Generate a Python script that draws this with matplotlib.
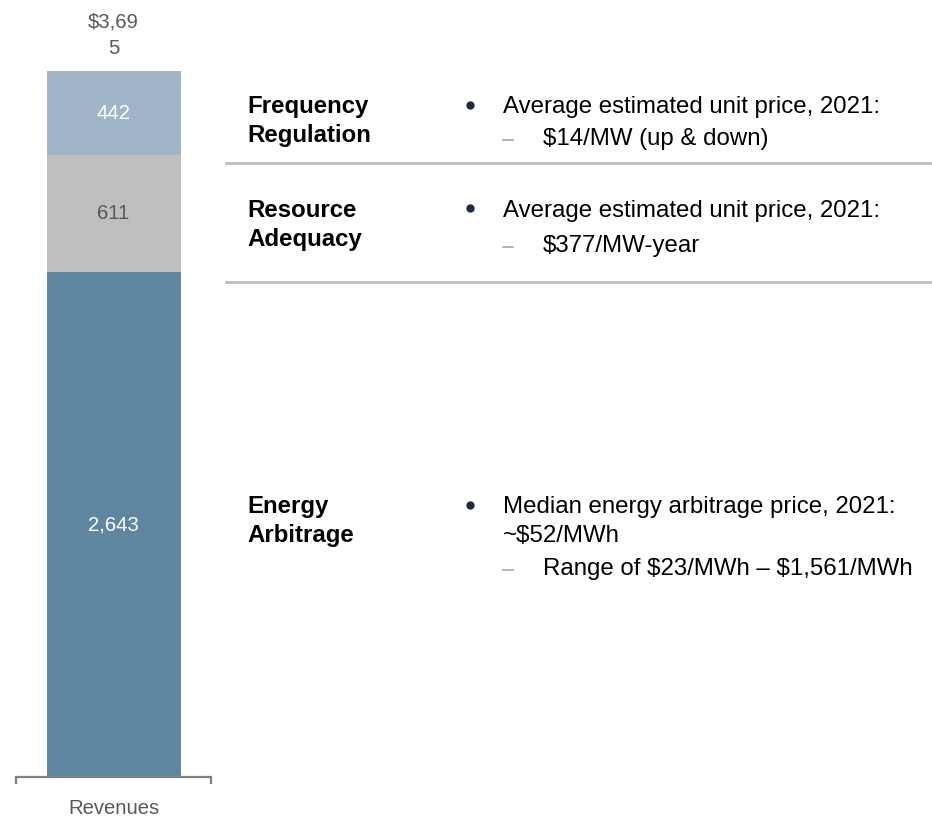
import matplotlib
matplotlib.use("Agg")
import matplotlib.pyplot as plt
from matplotlib.lines import Line2D

plt.rcParams['font.family'] = ['Liberation Sans', 'DejaVu Sans']
plt.rcParams['text.parse_math'] = False

# stacked bar data (bottom -> top)
segments = ['Energy Arbitrage', 'Resource Adequacy', 'Frequency Regulation']
values = [2643, 611, 442]
seg_colors = ['#5F86A0', '#BFBFBF', '#A0B6C8']
label_colors = ['white', '#595959', 'white']
total_label = '$3,69\n5'
bar_name = 'Revenues'

# right-hand description panel
row_titles = ['Frequency\nRegulation', 'Resource\nAdequacy', 'Energy\nArbitrage']
row_bullets = ['Average estimated unit price, 2021:',
               'Average estimated unit price, 2021:',
               'Median energy arbitrage price, 2021:\n~$52/MWh']
row_subs = ['$14/MW (up & down)', '$377/MW-year', 'Range of $23/MWh \u2013 $1,561/MWh']

W, H = 932, 817
fig = plt.figure(figsize=(W / 100, H / 100), dpi=100)


def fx(px):
    return px / W


def fy(py):
    return 1 - py / H


# bar axes: spans bracket width, bottom at bar base, top at bar top
ax = fig.add_axes([fx(16), fy(777), fx(211) - fx(16), fy(71) - fy(777)])
bottom = 0
for v, c, lc in zip(values, seg_colors, label_colors):
    ax.bar(0, v, width=134 / 195, bottom=bottom, color=c, linewidth=0)
    ax.text(0, bottom + v / 2, f'{v:,}', ha='center', va='center',
            fontsize=14.6, color=lc)
    bottom += v
ax.annotate(total_label, (0, bottom), xytext=(0, 9), textcoords='offset points',
            ha='center', va='bottom', fontsize=14.6, color='#595959',
            linespacing=1.55, annotation_clip=False)
ax.set_xlim(-0.5, 0.5)
ax.set_ylim(0, sum(values))
for s in ['top', 'left', 'right']:
    ax.spines[s].set_visible(False)
ax.spines['bottom'].set_color('#7F7F7F')
ax.spines['bottom'].set_linewidth(1.6)
ax.set_yticks([])
ax.set_xticks([0])
ax.set_xticklabels([bar_name], fontsize=14.6, color='#595959')
ax.tick_params(axis='x', which='major', length=0, pad=16)
ax.set_xticks([-0.5, 0.5], minor=True)
ax.tick_params(axis='x', which='minor', length=5, width=1.6,
               color='#7F7F7F', direction='out')

# right panel
title_base = [113, 217, 513]
bullet_y = [105, 208, 505]
sub_base = [145, 252, 575]
for t, b, s, tb, by, sb in zip(row_titles, row_bullets, row_subs,
                                title_base, bullet_y, sub_base):
    fig.text(fx(247), fy(tb), t.split('\n')[0], fontsize=17.3, weight='bold',
             va='baseline', color='black')
    fig.text(fx(247), fy(tb + 29), t.split('\n')[1], fontsize=17.3, weight='bold',
             va='baseline', color='black')
    for i, line in enumerate(b.split('\n')):
        fig.text(fx(503), fy(tb + 29 * i), line, fontsize=17.3,
                 va='baseline', color='black')
    fig.add_artist(Line2D([fx(470)], [fy(by)], marker='o', markersize=5,
                          color='#1F2A44', transform=fig.transFigure))
    fig.add_artist(Line2D([fx(503), fx(513)], [fy(sb - 5), fy(sb - 5)],
                          color='#A6A6A6', linewidth=1.2,
                          transform=fig.transFigure))
    fig.text(fx(543), fy(sb), s, fontsize=17.3, va='baseline', color='black')

for sy in [163, 282]:
    fig.add_artist(Line2D([fx(226), 1], [fy(sy), fy(sy)], color='#BFBFBF',
                          linewidth=2, transform=fig.transFigure))

fig.savefig('out.png', dpi=100)
